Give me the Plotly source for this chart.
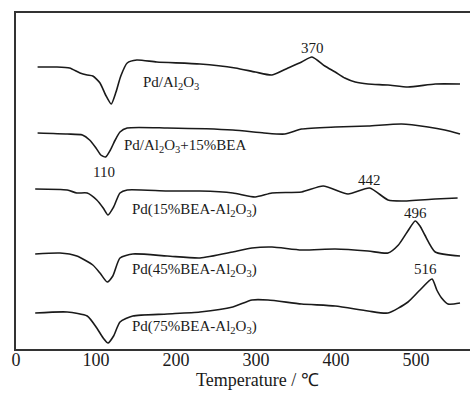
import plotly.graph_objects as go

# Temperature (deg C) and relative TPD signal (arbitrary units, offset per curve)
t1 = [27, 50, 67, 80, 89, 96, 105, 112, 119, 125, 131, 139, 151, 176, 230, 274, 299, 320, 340, 357, 370, 386, 399, 411, 424, 440, 465, 490, 524, 555]
s1 = [282, 282, 281, 276, 274, 273, 266, 254, 245, 257, 273, 286, 289, 287, 285, 281, 277, 274, 281, 287, 292, 283, 277, 271, 267, 265, 264, 262, 265, 265]

t2 = [27, 64, 83, 92, 100, 106, 112, 118, 124, 130, 139, 189, 271, 310, 336, 357, 399, 440, 482, 515, 536, 555]
s2 = [216, 215, 214, 209, 201, 194, 192, 199, 209, 217, 221, 221, 219, 216, 215, 220, 222, 223, 225, 222, 219, 215]

t3 = [24, 64, 76, 89, 101, 109, 115, 122, 130, 139, 189, 230, 271, 299, 320, 357, 384, 415, 442, 465, 482, 524, 552]
s3 = [160, 159, 156, 156, 149, 141, 134, 142, 156, 159, 158, 158, 156, 152, 156, 157, 163, 155, 161, 149, 148, 150, 151]

t4 = [24, 55, 76, 96, 105, 114, 121, 130, 146, 189, 230, 271, 295, 320, 357, 399, 440, 465, 478, 489, 499, 505, 511, 524, 555]
s4 = [95, 96, 93, 84, 76, 67, 73, 91, 95, 93, 91, 97, 101, 102, 99, 100, 98, 96, 104, 117, 128, 123, 114, 97, 93]

t5 = [24, 64, 89, 101, 109, 115, 122, 130, 146, 189, 230, 271, 295, 315, 357, 399, 440, 465, 490, 505, 520, 526, 532, 540, 555]
s5 = [36, 37, 33, 21, 11, 6, 13, 27, 33, 35, 37, 42, 49, 49, 45, 43, 38, 36, 47, 59, 70, 59, 51, 45, 46]

series_names = ["Pd/Al<sub>2</sub>O<sub>3</sub>",
                "Pd/Al<sub>2</sub>O<sub>3</sub>+15%BEA",
                "Pd(15%BEA-Al<sub>2</sub>O<sub>3</sub>)",
                "Pd(45%BEA-Al<sub>2</sub>O<sub>3</sub>)",
                "Pd(75%BEA-Al<sub>2</sub>O<sub>3</sub>)"]
name_x = [194, 211, 223, 223, 223]
name_y = [266, 203, 139, 79, 22]

peak_labels = ["370", "110", "442", "496", "516"]
peak_x = [370, 110, 442, 499, 512]
peak_y = [301, 177, 169, 136, 80]

tick_vals = [0, 100, 200, 300, 400, 500]
x_title = "Temperature / ℃"

fig = go.Figure()
for t, s in [(t1, s1), (t2, s2), (t3, s3), (t4, s4), (t5, s5)]:
    fig.add_trace(go.Scatter(x=t, y=s, mode="lines",
                             line=dict(color="#1a1a1a", width=1.6, shape="spline", smoothing=0.6),
                             showlegend=False, hoverinfo="skip"))

serif = "Liberation Serif, Times New Roman, serif"
for txt, x, y in zip(series_names, name_x, name_y):
    fig.add_annotation(x=x, y=y, text=txt, showarrow=False,
                       font=dict(family=serif, size=15, color="#1a1a1a"))
for txt, x, y in zip(peak_labels, peak_x, peak_y):
    fig.add_annotation(x=x, y=y, text=txt, showarrow=False,
                       font=dict(family=serif, size=15, color="#1a1a1a"))
fig.add_annotation(x=302, y=-0.092, xref="x", yref="paper", yanchor="middle", xanchor="center",
                   text=x_title, showarrow=False,
                   font=dict(family=serif, size=18, color="#1a1a1a"))

fig.update_layout(
    width=470, height=394,
    margin=dict(l=16, r=0, t=13, b=45, autoexpand=False),
    paper_bgcolor="white", plot_bgcolor="white",
    xaxis=dict(range=[0, 567.5], tickvals=tick_vals, ticks="", showgrid=False, zeroline=False,
               showline=True, mirror=True, linecolor="#333", linewidth=1.6, automargin=False,
               ticklabelstandoff=-6,
               tickfont=dict(family=serif, size=18, color="#1a1a1a")),
    yaxis=dict(range=[0, 336], showticklabels=False, ticks="", showgrid=False, zeroline=False,
               showline=True, linecolor="#333", linewidth=1.6, automargin=False),
)
fig.write_html("out.html", config={"displayModeBar": False},
               post_script="document.body.style.margin='0';document.body.style.overflow='hidden';")
